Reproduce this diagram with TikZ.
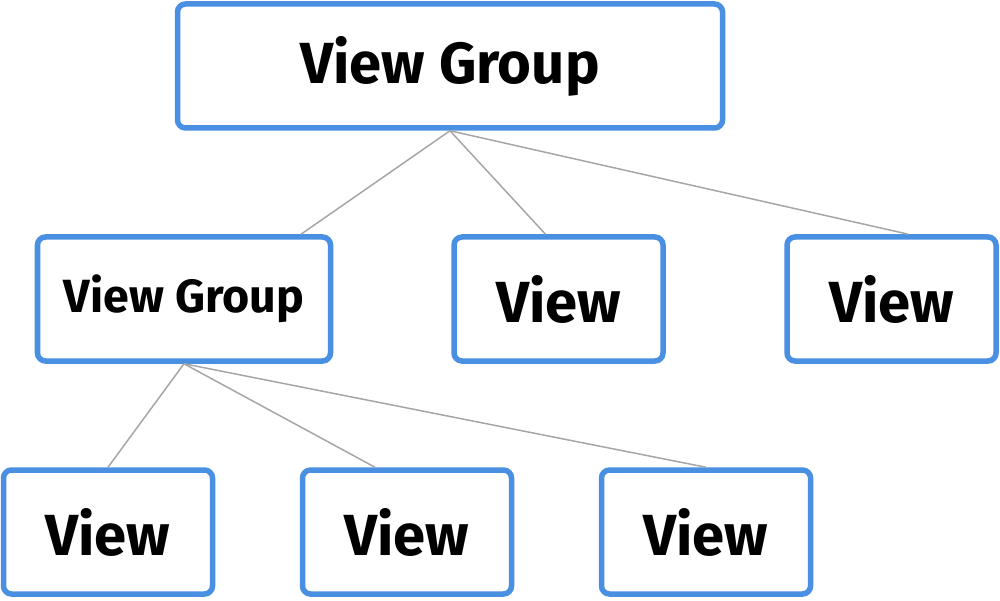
\documentclass[tikz,border=0pt]{standalone}
\usepackage{fontspec}
\setmainfont{Fira Sans}
\definecolor{boxblue}{HTML}{4A90E2}
\definecolor{linegray}{HTML}{A6A6A6}
\tikzset{
  viewbox/.style={draw=boxblue, line width=0.11cm, rounded corners=0.16cm, fill=white,
    minimum height=2.48cm, minimum width=4.18cm, font=\fontsize{33}{36}\selectfont\bfseries},
  link/.style={draw=linegray, line width=0.03cm}
}
\begin{document}
\begin{tikzpicture}
\useasboundingbox (0,0) rectangle (20,12);
\node[viewbox, minimum width=10.9cm] (root) at (9.00,10.68) {View Group};
\node[viewbox, minimum width=5.86cm, font=\fontsize{26.5}{30}\selectfont\bfseries] (group) at (3.68,6.02) {View Group};
\node[viewbox] (viewA) at (11.17,6.02) {View};
\node[viewbox] (viewB) at (17.83,6.02) {View};
\node[viewbox] (leafA) at (2.16,1.36) {View};
\node[viewbox] (leafB) at (8.14,1.36) {View};
\node[viewbox] (leafC) at (14.12,1.36) {View};
\draw[link] (root.south) -- ([xshift=2.34cm]group.north);
\draw[link] (root.south) -- ([xshift=-0.26cm]viewA.north);
\draw[link] (root.south) -- ([xshift=0.34cm]viewB.north);
\draw[link] (group.south) -- (leafA.north);
\draw[link] (group.south) -- ([xshift=-0.64cm]leafB.north);
\draw[link] (group.south) -- (leafC.north);
\end{tikzpicture}
\end{document}
